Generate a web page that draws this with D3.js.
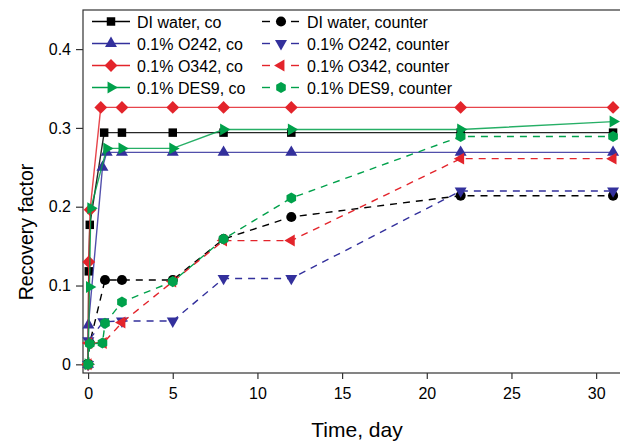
<!DOCTYPE html>
<html>
<head>
<meta charset="utf-8">
<script src="https://cdn.jsdelivr.net/npm/d3@7"></script>
<style>
  body { margin: 0; background: #fff; }
  text { font-family: "Liberation Sans", Arial, sans-serif; fill: #000; }
</style>
</head>
<body>
<div id="chart"></div>
<script>
// days and recovery factor for each run
const tDIco = [0, 0.04, 0.1, 0.95, 2, 5, 8, 12, 22, 31];
const rfDIco = [0, 0.118, 0.177, 0.294, 0.294, 0.294, 0.294, 0.294, 0.294, 0.294];
const tDIcounter = [0, 0.1, 1, 2, 5, 8, 12, 22, 31];
const rfDIcounter = [0, 0.027, 0.107, 0.107, 0.107, 0.159, 0.187, 0.214, 0.214];

const tO242co = [0, 0.02, 0.85, 1.1, 2, 5, 8, 12, 22, 31];
const rfO242co = [0, 0.05, 0.25, 0.269, 0.269, 0.269, 0.269, 0.269, 0.269, 0.269];
const tO242counter = [0, 0.02, 0.9, 2, 5, 8, 12, 22, 31];
const rfO242counter = [0, 0.03, 0.054, 0.055, 0.055, 0.109, 0.109, 0.22, 0.22];

const tO342co = [0, 0.04, 0.12, 0.75, 2, 5, 8, 12, 22, 31];
const rfO342co = [0, 0.13, 0.196, 0.326, 0.326, 0.326, 0.326, 0.326, 0.326, 0.326];
const tO342counter = [0, 0.04, 0.9, 2, 5, 8, 12, 22, 31];
const rfO342counter = [0, 0.027, 0.027, 0.053, 0.105, 0.157, 0.157, 0.261, 0.261];

const tDES9co = [0, 0.08, 0.16, 1.1, 2, 5, 8, 12, 22, 31];
const rfDES9co = [0, 0.098, 0.198, 0.274, 0.274, 0.274, 0.298, 0.298, 0.298, 0.308];
const tDES9counter = [0, 0.1, 0.85, 1, 2, 5, 8, 12, 22, 31];
const rfDES9counter = [0, 0.026, 0.027, 0.052, 0.079, 0.105, 0.159, 0.211, 0.289, 0.289];

const xTicks = [0, 5, 10, 15, 20, 25, 30];
const yTicks = [0, 0.1, 0.2, 0.3, 0.4];

const black = "#000000", blue = "#33309c", red = "#e3242b", green = "#00a14b";

const series = [
    {name: "DI water, co", t: tDIco, v: rfDIco, color: black, dash: false, mark: "square"},
    {name: "DI water, counter", t: tDIcounter, v: rfDIcounter, color: black, dash: true, mark: "circle"},
    {name: "0.1% O242, co", t: tO242co, v: rfO242co, color: blue, dash: false, mark: "up"},
    {name: "0.1% O242, counter", t: tO242counter, v: rfO242counter, color: blue, dash: true, mark: "down"},
    {name: "0.1% O342, co", t: tO342co, v: rfO342co, color: red, dash: false, mark: "diamond"},
    {name: "0.1% O342, counter", t: tO342counter, v: rfO342counter, color: red, dash: true, mark: "left"},
    {name: "0.1% DES9, co", t: tDES9co, v: rfDES9co, color: green, dash: false, mark: "right"},
    {name: "0.1% DES9, counter", t: tDES9counter, v: rfDES9counter, color: green, dash: true, mark: "hex"}
];

const width = 620, height = 442;

const svg = d3.select("#chart")
    .append("svg")
    .attr("width", width)
    .attr("height", height);

const x = d3.scaleLinear().domain([-0.3, 32]).range([83, 630]);
const y = d3.scaleLinear().domain([-0.011, 0.4496]).range([373, 10]);

// marker shapes
const hexagon = {
    draw(ctx, size) {
        const r = Math.sqrt(size / (1.5 * Math.sqrt(3)));
        for (let i = 0; i < 6; i++) {
            const a = Math.PI / 6 + i * Math.PI / 3;
            if (i === 0) ctx.moveTo(r * Math.cos(a), r * Math.sin(a));
            else ctx.lineTo(r * Math.cos(a), r * Math.sin(a));
        }
        ctx.closePath();
    }
};

function markerPath(mark) {
    if (mark === "square") return {d: d3.symbol(d3.symbolSquare, 72)(), rot: 0};
    if (mark === "circle") return {d: d3.symbol(d3.symbolCircle, 80)(), rot: 0};
    if (mark === "diamond") return {d: d3.symbol(d3.symbolSquare, 82)(), rot: 45};
    if (mark === "hex") return {d: d3.symbol(hexagon, 80)(), rot: 0};
    const tri = d3.symbol(d3.symbolTriangle, 62)();
    const rot = {up: 0, down: 180, left: -90, right: 90}[mark];
    return {d: tri, rot: rot};
}

// frame
svg.append("rect")
    .attr("x", x.range()[0])
    .attr("y", y.range()[1])
    .attr("width", x.range()[1] - x.range()[0])
    .attr("height", y.range()[0] - y.range()[1])
    .attr("fill", "none")
    .attr("stroke", "#333")
    .attr("stroke-width", 1.2);

// axes
const xAxis = d3.axisBottom(x).tickValues(xTicks).tickSize(6).tickSizeOuter(0).tickPadding(9);
const yAxis = d3.axisLeft(y).tickValues(yTicks).tickSize(7).tickSizeOuter(0).tickPadding(5)
    .tickFormat(d => d === 0 ? "0" : d3.format(".1f")(d));

const gx = svg.append("g")
    .attr("transform", `translate(0,${y.range()[0]})`)
    .call(xAxis);
const gy = svg.append("g")
    .attr("transform", `translate(${x.range()[0]},0)`)
    .call(yAxis);

[gx, gy].forEach(g => {
    g.select(".domain").remove();
    g.selectAll("line").attr("stroke", "#333").attr("stroke-width", 1.2);
    g.selectAll("text").style("font-size", "16px").style("font-family", "Liberation Sans, Arial, sans-serif");
});

svg.append("text")
    .attr("x", 357)
    .attr("y", 437)
    .attr("text-anchor", "middle")
    .style("font-size", "21px")
    .text("Time, day");

svg.append("text")
    .attr("transform", "translate(33,232) rotate(-90)")
    .attr("text-anchor", "middle")
    .style("font-size", "19.5px")
    .text("Recovery factor");

// lines and markers
const line = d3.line().x(d => x(d[0])).y(d => y(d[1]));

series.forEach(s => {
    const pts = s.t.map((t, i) => [t, s.v[i]]);
    const g = svg.append("g");
    g.append("path")
        .datum(pts)
        .attr("d", line)
        .attr("fill", "none")
        .attr("stroke", s.color)
        .attr("stroke-width", 1.4)
        .attr("stroke-dasharray", s.dash ? "7,6" : null)
        .attr("opacity", s.dash ? 1 : 0.85);
    const m = markerPath(s.mark);
    g.selectAll("path.mk")
        .data(pts)
        .join("path")
        .attr("class", "mk")
        .attr("d", m.d)
        .attr("transform", d => `translate(${x(d[0])},${y(d[1])}) rotate(${m.rot})`)
        .attr("fill", s.color);
});

// legend
const legend = svg.append("g");
series.forEach((s, i) => {
    const col = i % 2, row = Math.floor(i / 2);
    const cy = 21.5 + row * 22;
    const g = legend.append("g");
    const m = markerPath(s.mark);
    if (col === 0) {
        g.append("line").attr("x1", 92).attr("x2", 130).attr("y1", cy).attr("y2", cy)
            .attr("stroke", s.color).attr("stroke-width", 1.4);
        g.append("path").attr("d", m.d)
            .attr("transform", `translate(111,${cy}) rotate(${m.rot})`).attr("fill", s.color);
        g.append("text").attr("x", 137).attr("y", cy + 6).style("font-size", "16px").text(s.name);
    } else {
        g.append("line").attr("x1", 262).attr("x2", 270).attr("y1", cy).attr("y2", cy)
            .attr("stroke", s.color).attr("stroke-width", 1.4);
        g.append("line").attr("x1", 291).attr("x2", 299).attr("y1", cy).attr("y2", cy)
            .attr("stroke", s.color).attr("stroke-width", 1.4);
        g.append("path").attr("d", m.d)
            .attr("transform", `translate(281,${cy}) rotate(${m.rot})`).attr("fill", s.color);
        g.append("text").attr("x", 307).attr("y", cy + 6).style("font-size", "16px").text(s.name);
    }
});
</script>
</body>
</html>
